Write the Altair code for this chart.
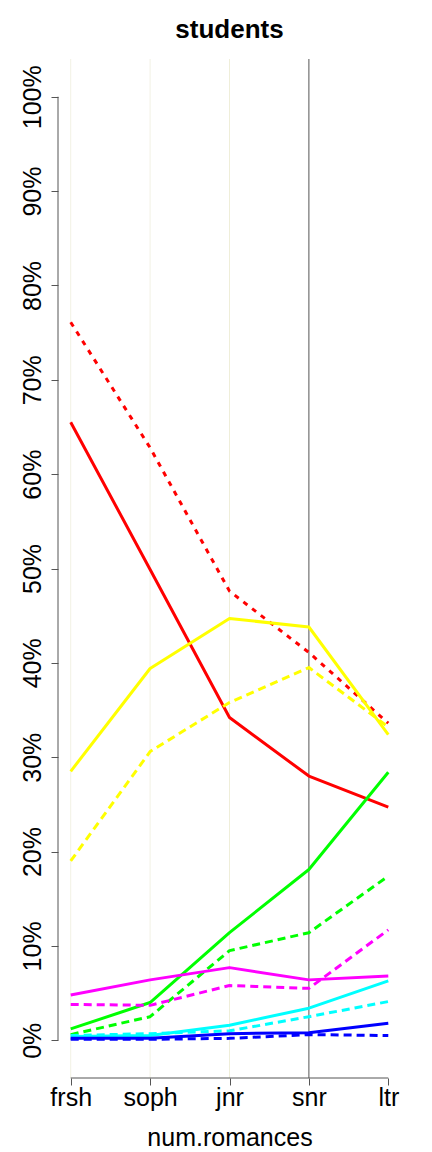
import altair as alt
import pandas as pd

title_text = ["students"]
years = ["frsh", "soph", "jnr", "snr", "ltr"]
x_idx = [0, 1, 2, 3, 4]

red_solid = [65.5, 49.9, 34.2, 28.0, 24.7]
red_dash = [76.1, 62.8, 47.6, 41.1, 33.6]
yellow_solid = [28.5, 39.4, 44.7, 43.8, 32.4]
yellow_dash = [19.0, 30.6, 35.8, 39.5, 33.2]
green_solid = [1.2, 4.0, 11.4, 18.1, 28.4]
green_dash = [0.6, 2.5, 9.5, 11.4, 17.4]
magenta_solid = [4.8, 6.4, 7.7, 6.4, 6.8]
magenta_dash = [3.8, 3.7, 5.8, 5.5, 11.7]
cyan_solid = [0.4, 0.5, 1.6, 3.4, 6.3]
cyan_dash = [0.5, 0.7, 1.0, 2.5, 4.1]
blue_solid = [0.2, 0.2, 0.7, 0.8, 1.8]
blue_dash = [0.1, 0.1, 0.2, 0.6, 0.5]

series = [
    ("red_dash", red_dash, "#ff0000", [5, 6]),
    ("red_solid", red_solid, "#ff0000", None),
    ("yellow_dash", yellow_dash, "#ffff00", [8, 5]),
    ("yellow_solid", yellow_solid, "#ffff00", None),
    ("green_dash", green_dash, "#00ff00", [8, 5]),
    ("green_solid", green_solid, "#00ff00", None),
    ("magenta_dash", magenta_dash, "#ff00ff", [8, 5]),
    ("magenta_solid", magenta_solid, "#ff00ff", None),
    ("cyan_dash", cyan_dash, "#00ffff", [8, 5]),
    ("cyan_solid", cyan_solid, "#00ffff", None),
    ("blue_dash", blue_dash, "#0000ff", [8, 5]),
    ("blue_solid", blue_solid, "#0000ff", None),
]

W = 343
H = 1019
FONT = "Liberation Sans"

xscale = alt.Scale(domain=[-0.16, 4.16], nice=False, zero=False)
yscale = alt.Scale(domain=[-4, 104], nice=False, zero=False)

xaxis = alt.Axis(
    values=x_idx,
    labelExpr="['frsh','soph','jnr','snr','ltr'][datum.value]",
    domain=False, grid=False, tickSize=7, tickColor="#555555", tickWidth=1,
    labelFontSize=25, labelFont=FONT, labelColor="black", labelPadding=0,
    title="num.romances", titleFontSize=25, titleFont=FONT, titleFontWeight="normal",
    titleColor="black", titlePadding=15,
)
yaxis = alt.Axis(
    values=list(range(0, 101, 10)),
    labelExpr="datum.value + '%'",
    labelAngle=270, labelAlign="center", labelBaseline="bottom",
    domain=False, grid=False, tickSize=7, tickColor="#555555", tickWidth=1,
    labelFontSize=25, labelFont=FONT, labelColor="black", labelPadding=6,
    title=None,
)

# vertical reference lines
vl_df = pd.DataFrame({"x": x_idx[:4], "c": ["#f2f1e4", "#f2f1e4", "#efeed9", "#555555"]})
vlines = alt.Chart(vl_df).mark_rule(strokeWidth=1).encode(
    x=alt.X("x:Q", scale=xscale, axis=xaxis),
    y=alt.value(0), y2=alt.value(H),
    color=alt.Color("c:N", scale=None),
)

layers = [vlines]

# axis lines
xline = alt.Chart(pd.DataFrame({"a": [x_idx[0]], "b": [x_idx[-1]]})).mark_rule(
    color="#555555", strokeWidth=1
).encode(x=alt.X("a:Q", scale=xscale), x2="b:Q", y=alt.value(H))
yline = alt.Chart(pd.DataFrame({"a": [0], "b": [100]})).mark_rule(
    color="#555555", strokeWidth=1
).encode(y=alt.Y("a:Q", scale=yscale, axis=yaxis), y2="b:Q", x=alt.value(0))
layers += [xline, yline]

for name, vals, col, dash in series:
    df = pd.DataFrame({"x": x_idx, "v": vals})
    kw = dict(color=col, strokeWidth=3, strokeCap="butt", strokeJoin="round")
    if dash:
        kw["strokeDash"] = dash
    layers.append(
        alt.Chart(df).mark_line(**kw).encode(
            x=alt.X("x:Q", scale=xscale),
            y=alt.Y("v:Q", scale=yscale),
        )
    )

# chart title as a text mark placed above the plot area
title_layer = alt.Chart(pd.DataFrame({"t": title_text})).mark_text(
    font=FONT, fontSize=26, fontWeight="bold", color="black",
    align="center", baseline="alphabetic",
).encode(x=alt.value(W / 2), y=alt.value(-21), text="t:N")
layers.append(title_layer)

chart = alt.layer(*layers).properties(
    width=W, height=H,
    autosize=alt.AutoSizeParams(type="none"),
    padding={"left": 50, "top": 51, "right": 20, "bottom": 72},
).configure(background="white", view=alt.ViewConfig(stroke=None))

chart.save("out.html", embed_options={"renderer": "svg", "actions": False})
